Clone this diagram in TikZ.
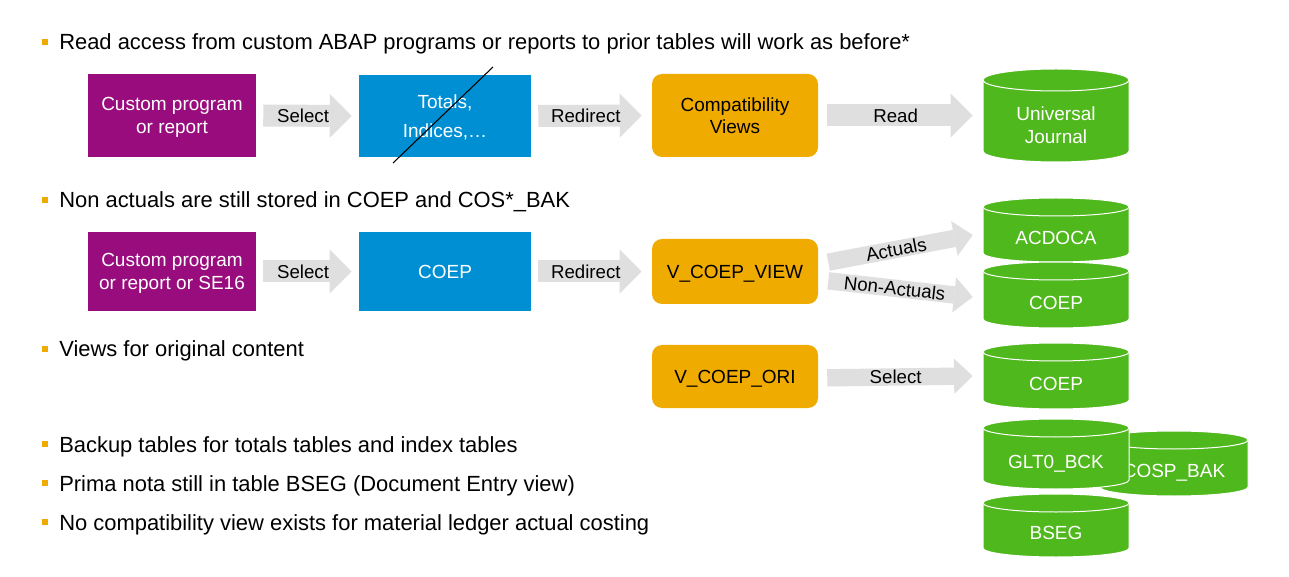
\documentclass[tikz,border=0pt]{standalone}
\usepackage{fontspec}
\setmainfont{Liberation Sans}
\usetikzlibrary{arrows.meta}
\definecolor{sappurple}{RGB}{152,12,126}
\definecolor{sapblue}{RGB}{0,143,211}
\definecolor{sapgold}{RGB}{240,171,0}
\definecolor{sapgreen}{RGB}{79,184,28}
\definecolor{arrgray}{RGB}{223,223,223}

\newcommand\dbcyl[7]{% name, xl, xr, yt, yb, ry, text
  \pgfmathsetmacro\cylrx{(#3-#2)/2}%
  \pgfmathsetmacro\cylcx{(#3+#2)/2}%
  \pgfmathsetmacro\cyltop{#4+#6}%
  \pgfmathsetmacro\cylbot{#5-#6}%
  \pgfmathsetmacro\cyltxt{(#4+2*#6+#5)/2-1.5}%
  \pgfmathsetmacro\cylcy{(#4+#5)/2}%
  \filldraw[cylstyle] (#2,\cyltop) -- (#2,\cylbot)
     arc[start angle=180,end angle=0,x radius=\cylrx,y radius=#6]
     -- (#3,\cyltop)
     arc[start angle=0,end angle=-180,x radius=\cylrx,y radius=#6] -- cycle;
  \draw[cylline] (#2,\cyltop) arc[start angle=180,end angle=0,x radius=\cylrx,y radius=#6];
  \node[cylbox, minimum width={(#3-#2)*0.75pt}, minimum height={(#5-#4)*0.75pt}] (#1) at (\cylcx,\cylcy) {};
  \node[cyltext] (#1-t) at (\cylcx,\cyltxt) {#7};
}

\begin{document}
\begin{tikzpicture}[x=0.75pt,y=-0.75pt,
  boxfont/.style={font=\fontsize{14.25}{17}\selectfont},
  bulletfont/.style={font=\fontsize{16.45}{19}\selectfont},
  purplebox/.style={boxfont, fill=sappurple, text=white, align=center, inner sep=0pt, text depth=0pt},
  bluebox/.style={boxfont, fill=sapblue, text=white, align=center, inner sep=0pt, text depth=0pt},
  goldbox/.style={boxfont, fill=sapgold, text=black, align=center, inner sep=0pt, rounded corners=7.5pt, text depth=0pt},
  cylstyle/.style={fill=sapgreen, draw=white, line width=0.75pt},
  cylline/.style={draw=white, line width=0.75pt},
  cylbox/.style={draw=none, inner sep=0pt},
  cyltext/.style={boxfont, text=white, inner sep=0pt, align=center, text depth=0pt},
  bulletsq/.style={fill=sapgold, minimum size=4.5pt, inner sep=0pt},
  bullettext/.style={bulletfont, text=black, inner sep=0pt, anchor=base west},
  bigarr/.style={draw=arrgray, line width=16.5pt, -{Triangle[length=16.5pt,width=33pt,line width=0pt]}},
  smallarr/.style={draw=arrgray, line width=13pt, -{Triangle[length=14pt,width=26.5pt,line width=0pt]}},
  arrlabel/.style={font=\fontsize{14}{16}\selectfont, text=black, inner sep=0pt}
]
\fill[white] (0,0) rectangle (1289,577);
\useasboundingbox (0,0) rectangle (1289,577);

% bullets and texts
\node[bulletsq] (b1) at (44.5,42) {};
\node[bullettext] (t1) at (59,50) {Read access from custom ABAP programs or reports to prior tables will work as before*};
\node[bulletsq] (b2) at (44.5,200) {};
\node[bullettext] (t2) at (59,208) {Non actuals are still stored in COEP and COS*\_BAK};
\node[bulletsq] (b3) at (44.5,349) {};
\node[bullettext] (t3) at (59,357) {Views for original content};
\node[bulletsq] (b4) at (44.5,444) {};
\node[bullettext] (t4) at (59,452) {Backup tables for totals tables and index tables};
\node[bulletsq] (b5) at (44.5,483) {};
\node[bullettext] (t5) at (59,491) {Prima nota still in table BSEG (Document Entry view)};
\node[bulletsq] (b6) at (44.5,522) {};
\node[bullettext] (t6) at (59,530) {No compatibility view exists for material ledger actual costing};

% row 1
\node[purplebox, minimum width={168*0.75pt}, minimum height={83*0.75pt}] (cp1) at (172,115.5) {Custom program\\or report};
\node[bluebox, minimum width={172*0.75pt}, minimum height={82*0.75pt}] (tot) at (445,116) {Totals,\\[4.5pt]Indices,\dots};
\draw[black, line width=0.8pt] (393,163) -- (493,67);
\node[goldbox, minimum width={166*0.75pt}, minimum height={83*0.75pt}] (cv) at (735,115.5) {Compatibility\\Views};
\dbcyl{uj}{983}{1129}{69}{162}{11}{Universal\\Journal}

\draw[bigarr] ([xshift=5.25pt]cp1.east) -- node[arrlabel, pos=0.45] (l1) {Select} ([xshift=-5.25pt]tot.west);
\draw[bigarr] ([xshift=5.25pt]tot.east) -- node[arrlabel, pos=0.46] (l2) {Redirect} ([xshift=-7.5pt]cv.west);
\draw[bigarr] ([xshift=6.75pt]cv.east) -- node[arrlabel, pos=0.47] (l3) {Read} ([xshift=-7.5pt]uj.west);

% row 2
\node[purplebox, minimum width={168*0.75pt}, minimum height={79*0.75pt}] (cp2) at (172,271.5) {Custom program\\or report or SE16};
\node[bluebox, minimum width={172*0.75pt}, minimum height={79*0.75pt}] (coep) at (445,271.5) {COEP};
\node[goldbox, minimum width={166*0.75pt}, minimum height={65*0.75pt}] (vcv) at (735,271.5) {V\_COEP\_VIEW};
\dbcyl{acdoca}{983}{1129}{198}{262}{9}{ACDOCA}
\dbcyl{coepb}{983}{1129}{262}{328}{9}{COEP}

\draw[bigarr] ([xshift=5.25pt]cp2.east) -- node[arrlabel, pos=0.45] (l4) {Select} ([xshift=-5.25pt]coep.west);
\draw[bigarr] ([xshift=5.25pt]coep.east) -- node[arrlabel, pos=0.46] (l5) {Redirect} ([xshift=-7.5pt]vcv.west);
\draw[smallarr] ([xshift=7.5pt,yshift=7pt]vcv.east) -- node[arrlabel, pos=0.47, sloped] (l6) {Actuals} ([xshift=-7.5pt,yshift=-3.75pt]acdoca.west);
\draw[smallarr] ([xshift=7.5pt,yshift=-7pt]vcv.east) -- node[arrlabel, pos=0.46, sloped] (l7) {Non-Actuals} ([xshift=-7.5pt,yshift=-1.5pt]coepb.west);

% row 3
\node[goldbox, minimum width={166*0.75pt}, minimum height={63*0.75pt}] (vco) at (735,376.5) {V\_COEP\_ORI};
\dbcyl{coepc}{983}{1129}{343}{409}{9}{COEP}
\draw[smallarr] ([xshift=6.75pt,yshift=-1pt]vco.east) -- node[arrlabel, pos=0.47] (l8) {Select} ([xshift=-7.5pt]coepc.west);

% row 4
\dbcyl{cosp}{1100}{1248}{431}{496}{9}{COSP\_BAK}
\dbcyl{glt}{983}{1129}{419}{489}{9}{GLT0\_BCK}
\dbcyl{bseg}{983}{1129}{494}{557}{9}{BSEG}
\end{tikzpicture}
\end{document}
